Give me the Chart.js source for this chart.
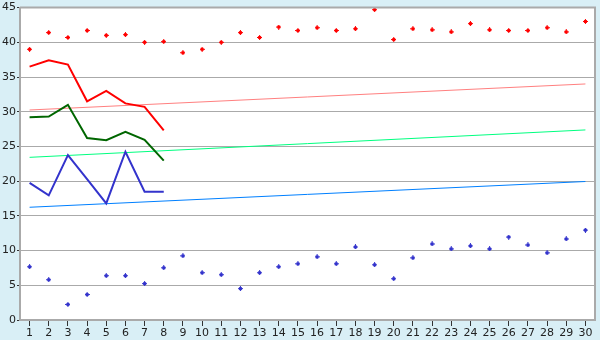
<!DOCTYPE html>
<html>
<head>
<meta charset="utf-8">
<script src="https://cdn.jsdelivr.net/npm/chart.js@4/dist/chart.umd.min.js"></script>
<style>
  html, body { margin: 0; padding: 0; background: #d9eff6; }
  #wrap { width: 600px; height: 340px; }
</style>
</head>
<body>
<div id="wrap"><canvas id="myChart" width="600" height="340"></canvas></div>
<script>
const days = ['1','2','3','4','5','6','7','8','9','10','11','12','13','14','15',
              '16','17','18','19','20','21','22','23','24','25','26','27','28','29','30'];

// scattered points
const redPoints = [39.0, 41.4, 40.7, 41.7, 41.0, 41.1, 40.0, 40.1, 38.5, 39.0,
                   40.0, 41.4, 40.7, 42.2, 41.7, 42.1, 41.7, 41.95, 44.7, 40.4,
                   41.95, 41.8, 41.5, 42.7, 41.8, 41.7, 41.7, 42.1, 41.5, 43.0];
const bluePoints = [7.67, 5.8, 2.25, 3.67, 6.38, 6.38, 5.24, 7.52, 9.24, 6.81,
                    6.52, 4.52, 6.81, 7.67, 8.1, 9.1, 8.1, 10.52, 7.95, 5.95,
                    8.95, 10.95, 10.24, 10.67, 10.24, 11.95, 10.81, 9.67, 11.67, 12.95];

// lines (first 8 days)
const redLine = [36.5, 37.4, 36.8, 31.5, 33.0, 31.2, 30.7, 27.3];
const greenLine = [29.2, 29.3, 31.0, 26.2, 25.9, 27.1, 25.95, 22.95];
const blueLine = [19.76, 17.95, 23.76, 20.3, 16.8, 24.24, 18.48, 18.48];

// trend lines: [day, value] at both ends
const redTrend = [['1', 30.25], ['30', 34.0]];
const greenTrend = [['1', 23.43], ['30', 27.38]];
const blueTrend = [['1', 16.24], ['30', 19.95]];

const yTicks = [0, 5, 10, 15, 20, 25, 30, 35, 40, 45];

function makeCross(color) {
   const c = document.createElement('canvas');
   c.width = 5; c.height = 5;
   const g = c.getContext('2d');
   g.fillStyle = color;
   g.fillRect(2, 0, 1, 5);
   g.fillRect(0, 2, 5, 1);
   g.fillRect(1, 1, 3, 3);
   return c;
}

const toXY = arr => arr.map(d => ({ x: d[0], y: d[1] }));

// белый фон области графика
const plotBg = {
   id: 'plotBg',
   beforeDraw(chart) {
      const { ctx, chartArea: a } = chart;
      ctx.save();
      ctx.fillStyle = '#d9eff6';
      ctx.fillRect(0, 0, chart.width, chart.height);
      ctx.fillStyle = '#ffffff';
      ctx.fillRect(a.left, a.top, a.right - a.left, a.bottom - a.top);
      ctx.restore();
   },
   afterDraw(chart) {
      const { ctx, chartArea: a } = chart;
      ctx.save();
      ctx.strokeStyle = '#aaaaaa';
      ctx.lineWidth = 2;
      ctx.beginPath();
      ctx.moveTo(a.left, a.top);
      ctx.lineTo(a.right, a.top);
      ctx.lineTo(a.right, a.bottom);
      ctx.stroke();
      ctx.restore();
   }
};

const font = { family: '"DejaVu Sans", sans-serif', size: 11 };

new Chart(document.getElementById('myChart'), {
   type: 'line',
   plugins: [plotBg],
   data: {
      labels: days,
      datasets: [
         { data: toXY(redTrend), borderColor: '#ff8080', borderWidth: 1, pointRadius: 0, order: 5 },
         { data: toXY(greenTrend), borderColor: '#00ff80', borderWidth: 1, pointRadius: 0, order: 5 },
         { data: toXY(blueTrend), borderColor: '#0080ff', borderWidth: 1, pointRadius: 0, order: 5 },
         { data: redLine, borderColor: '#ff0000', borderWidth: 2, pointRadius: 0, order: 3 },
         { data: greenLine, borderColor: '#006600', borderWidth: 2, pointRadius: 0, order: 3 },
         { data: blueLine, borderColor: '#3333cc', borderWidth: 2, pointRadius: 0, order: 3 },
         { data: redPoints, showLine: false, pointStyle: makeCross('#ff0000'), order: 1 },
         { data: bluePoints, showLine: false, pointStyle: makeCross('#3333cc'), order: 1 }
      ]
   },
   options: {
      responsive: false,
      animation: false,
      layout: { padding: { top: 5, right: 5, left: 0, bottom: 0 } },
      elements: { line: { tension: 0 } },
      plugins: { legend: { display: false }, tooltip: { enabled: false } },
      scales: {
         x: {
            type: 'category',
            offset: true,
            border: { color: '#aaaaaa', width: 2 },
            grid: { display: true, drawOnChartArea: false, drawTicks: true, tickLength: 6, color: '#333333', offset: false },
            ticks: { color: '#222222', font: font, padding: 1, maxRotation: 0, autoSkip: false },
            afterFit(s) { s.height = 20; }
         },
         y: {
            min: 0, max: 45,
            border: { color: '#aaaaaa', width: 2 },
            grid: { color: '#aaaaaa', tickLength: 3, tickColor: '#333333' },
            afterBuildTicks(s) { s.ticks = yTicks.map(v => ({ value: v })); },
            ticks: { color: '#222222', font: font, padding: 1, z: 1 },
            afterFit(s) { s.width = 20; }
         }
      }
   }
});
</script>
</body>
</html>
